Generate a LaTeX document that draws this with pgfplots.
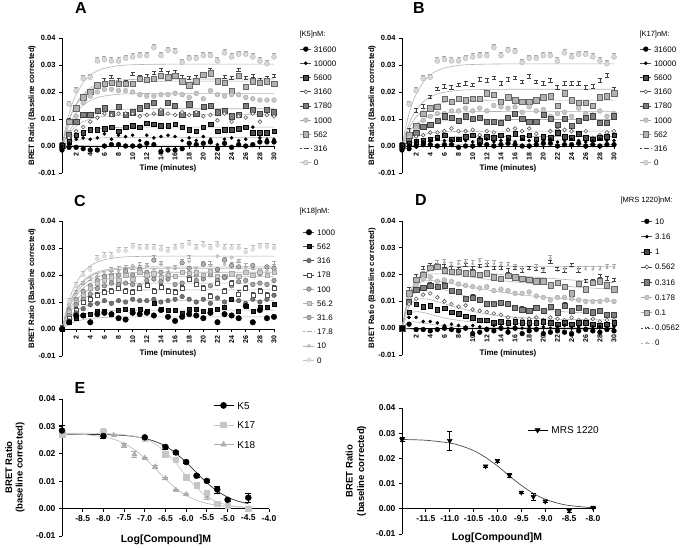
\documentclass[border=0pt]{standalone}
\usepackage{pgfplots}
\usepackage{pgfplotstable}
\pgfplotsset{compat=1.18}
\usepackage{fontspec}
\setmainfont{Liberation Sans}

% ---------- kinetic data (BRET ratio, baseline corrected) ----------
% columns follow legend order (highest antagonist concentration first)
\pgfplotstableread{
t s1 s2 s3 s4 s5 s6 s7 s8 s9
0 -0.0015 0 0 0 0 0 0 0 0
1 -0.0005 0.001 0.0015 0.003 0.004 0.005 0.009 0.009 0.0155
2 -0.0005 0.0025 0.004 0.0055 0.009 0.011 0.014 0.014 0.0205
3 -0.001 0.003 0.005 0.007 0.0115 0.016 0.018 0.0175 0.025
4 -0.0015 0.0025 0.006 0.009 0.0115 0.0185 0.020 0.0195 0.0255
5 -0.0015 0.003 0.006 0.0105 0.013 0.020 0.0225 0.022 0.0315
6 0 0.0045 0.0065 0.012 0.014 0.021 0.023 0.024 0.032
7 0.0005 0.0025 0.007 0.0115 0.012 0.021 0.0235 0.025 0.0315
8 0.0005 0.004 0.0055 0.012 0.0145 0.0205 0.023 0.024 0.0315
9 0 0.0035 0.007 0.012 0.0115 0.0205 0.023 0.023 0.0325
10 0 0.004 0.0075 0.012 0.0125 0.020 0.023 0.026 0.033
11 0 0.002 0.007 0.011 0.014 0.019 0.025 0.025 0.0335
12 0.001 0.004 0.0085 0.0115 0.015 0.0185 0.0245 0.0255 0.0335
13 0.0005 0.003 0.008 0.012 0.016 0.0185 0.025 0.0265 0.0365
14 -0.002 0.0035 0.0075 0.0135 0.0125 0.019 0.026 0.0275 0.0335
15 -0.0015 0.004 0.0075 0.012 0.016 0.019 0.0255 0.0265 0.0355
16 -0.0015 0.0035 0.008 0.0115 0.015 0.0195 0.026 0.027 0.035
17 -0.001 0.002 0.007 0.0125 0.0115 0.019 0.024 0.025 0.031
18 0.001 0.003 0.006 0.0115 0.0155 0.018 0.0225 0.0245 0.0325
19 0.0005 0.002 0.0055 0.0125 0.012 0.0195 0.024 0.025 0.0325
20 0.001 0.0035 0.007 0.011 0.0145 0.0175 0.0265 0.026 0.0335
21 0.0015 0.0025 0.008 0.0115 0.015 0.0205 0.027 0.0275 0.0335
22 -0.001 0.0005 0.0055 0.0095 0.0125 0.019 0.024 0.024 0.0315
23 0.001 0.0025 0.006 0.012 0.013 0.0185 0.0235 0.025 0.0345
24 -0.0005 0.003 0.006 0.009 0.011 0.019 0.0205 0.0245 0.033
25 0.0005 0.002 0.0065 0.011 0.0115 0.019 0.026 0.0275 0.034
26 0 0.0025 0.007 0.0105 0.015 0.018 0.022 0.0245 0.034
27 0.0005 0.007 0.005 0.012 0.0135 0.0175 0.024 0.0255 0.033
28 0.0015 0.003 0.005 0.009 0.012 0.017 0.0235 0.024 0.0315
29 0.0015 0.0025 0.005 0.0115 0.0135 0.017 0.024 0.0245 0.0305
30 0.0015 0.0025 0.0055 0.011 0.0125 0.017 0.023 0.0255 0.033
}\tA

\pgfplotstableread{
t s1 s2 s3 s4 s5 s6 s7 s8 s9
0 -0.0015 0 0 0 0 0 0 0 0
1 -0.001 0.0005 0.001 0.0015 0.002 0.003 0.004 0.005 0.0155
2 0 0.0015 0.0015 0.0035 0.005 0.0065 0.0075 0.0125 0.0205
3 0.0005 0.0015 0.002 0.004 0.007 0.0095 0.012 0.014 0.025
4 0.0005 0.002 0.0025 0.005 0.008 0.011 0.014 0.0175 0.0255
5 0 0.0025 0.003 0.005 0.0095 0.012 0.0145 0.0205 0.0315
6 0.0005 0.002 0.004 0.0055 0.011 0.012 0.0175 0.0215 0.032
7 0.0005 0.002 0.0025 0.0065 0.0105 0.013 0.0165 0.021 0.0315
8 -0.0005 0.0025 0.0025 0.0055 0.0095 0.013 0.0175 0.022 0.0315
9 0 0.002 0.0035 0.0055 0.011 0.014 0.017 0.0225 0.0325
10 0 0.0015 0.004 0.006 0.010 0.013 0.0175 0.022 0.033
11 0.0005 0.003 0.002 0.004 0.0105 0.014 0.0175 0.024 0.0335
12 0.0005 0.0025 0.0035 0.0055 0.009 0.013 0.0195 0.0235 0.0335
13 0 0.0015 0.003 0.005 0.009 0.015 0.019 0.0245 0.0365
14 0.0005 0.002 0.004 0.0035 0.0085 0.0145 0.0165 0.0225 0.0335
15 0.001 0.0025 0.003 0.006 0.0105 0.014 0.018 0.024 0.0355
16 0.0005 0.0015 0.0045 0.0065 0.012 0.0145 0.017 0.0245 0.035
17 0 0.0025 0.003 0.0055 0.010 0.0125 0.0165 0.023 0.031
18 0 0.002 0.004 0.0065 0.009 0.0145 0.0165 0.025 0.0325
19 0.0005 0.0015 0.0025 0.0045 0.009 0.013 0.017 0.023 0.0325
20 0.001 0.002 0.0035 0.0035 0.0115 0.0135 0.018 0.0225 0.0335
21 0.001 0.0025 0.003 0.0055 0.010 0.011 0.0185 0.0235 0.0335
22 0 0.0015 0.005 0.006 0.008 0.012 0.015 0.021 0.0315
23 0.0005 0.002 0.0035 0.006 0.010 0.0125 0.0195 0.0225 0.0345
24 0.0005 0.0025 0.003 0.0055 0.0075 0.011 0.017 0.0225 0.033
25 0.001 0.002 0.0045 0.0045 0.0095 0.014 0.016 0.0225 0.034
26 0 0.0015 0.003 0.0055 0.0105 0.012 0.016 0.021 0.034
27 0.0005 0.002 0.0025 0.003 0.011 0.0115 0.015 0.0215 0.033
28 0 0.0025 0.003 0.004 0.0085 0.013 0.018 0.0235 0.0315
29 0.0005 0.002 0.0035 0.005 0.0085 0.011 0.0185 0.0255 0.0305
30 0.0005 0.002 0.004 0.0055 0.011 0.012 0.0195 0.0205 0.033
}\tB

\pgfplotstableread{
t s1 s2 s3 s4 s5 s6 s7 s8 s9 s10
0 0 0 0 0 0 0 0 0 0 0
1 0.0025 0.0025 0.003 0.004 0.005 0.006 0.007 0.008 0.009 0.010
2 0.005 0.004 0.006 0.007 0.009 0.010 0.011 0.013 0.013 0.016
3 0.005 0.005 0.0075 0.010 0.011 0.0125 0.014 0.0165 0.017 0.020
4 0.0025 0.0055 0.009 0.011 0.013 0.015 0.016 0.018 0.019 0.022
5 0.0055 0.0065 0.0095 0.0125 0.015 0.017 0.018 0.0195 0.0195 0.026
6 0.006 0.0065 0.0105 0.0135 0.016 0.018 0.0195 0.020 0.021 0.027
7 0.0055 0.0055 0.0095 0.014 0.017 0.019 0.020 0.0215 0.022 0.027
8 0.004 0.007 0.0105 0.015 0.0165 0.018 0.020 0.022 0.0215 0.029
9 0.0035 0.0075 0.010 0.014 0.017 0.020 0.0215 0.0225 0.021 0.029
10 0.006 0.007 0.011 0.0135 0.0165 0.0185 0.020 0.022 0.0235 0.0305
11 0.0055 0.0075 0.0105 0.015 0.016 0.021 0.022 0.0235 0.023 0.030
12 0.006 0.0065 0.0105 0.016 0.018 0.020 0.021 0.023 0.0235 0.030
13 0.005 0.0095 0.011 0.014 0.0185 0.0205 0.0255 0.026 0.022 0.030
14 0.007 0.0075 0.010 0.0155 0.0175 0.019 0.021 0.024 0.024 0.0295
15 0.0045 0.007 0.0105 0.014 0.0185 0.020 0.020 0.0215 0.0225 0.029
16 0.003 0.007 0.011 0.0135 0.0165 0.0195 0.0195 0.0225 0.0225 0.030
17 0.0045 0.006 0.012 0.015 0.017 0.021 0.0245 0.0245 0.0245 0.0305
18 0.0055 0.0075 0.011 0.0185 0.019 0.0205 0.0225 0.026 0.025 0.0315
19 0.005 0.0075 0.010 0.0165 0.018 0.021 0.020 0.0215 0.0225 0.030
20 0.004 0.0065 0.011 0.015 0.0185 0.020 0.024 0.024 0.024 0.031
21 0.006 0.007 0.0095 0.012 0.016 0.0215 0.020 0.024 0.0235 0.030
22 0.0025 0.0075 0.0115 0.017 0.018 0.0195 0.022 0.021 0.027 0.031
23 0.0055 0.008 0.010 0.014 0.019 0.0195 0.0255 0.0255 0.024 0.030
24 0.005 0.011 0.011 0.017 0.016 0.0205 0.0235 0.0235 0.0265 0.030
25 0.004 0.0065 0.0105 0.013 0.0175 0.0195 0.023 0.0245 0.025 0.030
26 0.0085 0.0085 0.0095 0.015 0.018 0.021 0.021 0.023 0.0225 0.0285
27 0.0025 0.0065 0.011 0.0125 0.0165 0.020 0.0235 0.022 0.0235 0.0295
28 0.007 0.008 0.010 0.014 0.017 0.021 0.0205 0.021 0.022 0.0305
29 0.004 0.008 0.011 0.0125 0.0165 0.020 0.023 0.0225 0.0215 0.0305
30 0.0045 0.009 0.0125 0.015 0.018 0.021 0.0225 0.024 0.023 0.030
}\tC

\pgfplotstableread{
t s1 s2 s3 s4 s5 s6 s7 s8 s9
0 0 0 0 0 0 0 0 0 0
1 0.0015 0.004 0.006 0.009 0.010 0.011 0.013 0.014 0.012
2 -0.0005 0.004 0.009 0.011 0.0145 0.016 0.018 0.019 0.017
3 -0.0005 0.0025 0.008 0.0125 0.015 0.0185 0.020 0.022 0.020
4 -0.001 0.0025 0.0085 0.013 0.016 0.019 0.0225 0.023 0.023
5 -0.0005 0.002 0.007 0.0115 0.0155 0.0175 0.023 0.023 0.024
6 0 0.001 0.0075 0.010 0.016 0.018 0.0215 0.0225 0.0245
7 -0.0005 0.0015 0.006 0.009 0.014 0.0175 0.021 0.022 0.0235
8 -0.001 0.001 0.0055 0.008 0.0135 0.0165 0.021 0.0215 0.024
9 0 0.0005 0.0045 0.0085 0.011 0.016 0.0205 0.023 0.0245
10 -0.002 0.001 0.004 0.007 0.0115 0.0155 0.0205 0.022 0.024
11 -0.0015 0.0005 0.003 0.0065 0.0105 0.015 0.020 0.0225 0.025
12 -0.0005 0 0.003 0.006 0.009 0.0155 0.0205 0.023 0.024
13 -0.001 0.001 0.002 0.0055 0.009 0.014 0.019 0.022 0.024
14 0 0.0005 0.0025 0.005 0.0095 0.0145 0.0185 0.022 0.0235
15 -0.0015 0 0.002 0.004 0.009 0.014 0.0195 0.021 0.0235
16 0 0.0005 0.0025 0.0035 0.0075 0.013 0.019 0.022 0.0225
17 -0.002 0 0.002 0.003 0.007 0.013 0.0185 0.021 0.022
18 -0.001 0.0005 0.002 0.0035 0.0065 0.0135 0.018 0.022 0.022
19 -0.0005 0 0.002 0.004 0.0075 0.012 0.0175 0.0215 0.0225
20 -0.002 0.0005 0.0025 0.003 0.0065 0.0115 0.0175 0.021 0.0215
21 -0.0015 0 0.002 0.004 0.008 0.0105 0.016 0.024 0.026
22 -0.001 0.0005 0.0015 0.0035 0.006 0.0115 0.017 0.0215 0.0215
23 -0.0015 0.001 0.002 0.003 0.0085 0.0115 0.0155 0.021 0.022
24 -0.002 0 0.0015 0.004 0.0065 0.011 0.013 0.023 0.023
25 -0.001 0.0005 0.002 0.003 0.0075 0.0105 0.0165 0.021 0.022
26 -0.0005 0 0.002 0.003 0.0065 0.010 0.0145 0.017 0.022
27 -0.001 0.0005 0.0015 0.0035 0.006 0.010 0.017 0.017 0.022
28 -0.0015 0.0005 0.001 0.0025 0.0065 0.010 0.0175 0.019 0.022
29 -0.0005 0 0.0015 0.003 0.005 0.0105 0.016 0.018 0.0225
30 -0.001 0.0005 0.002 0.003 0.005 0.010 0.0145 0.0175 0.0225
}\tD

% ---------- fitted curves ----------
\pgfplotstableread{
t c1 c2 c3 c4 c5 c6 c7 c8 c9
0 0 0 0 0 0 0 0 0 0
0.5 0.0001 0.0007 0.00155 0.00256 0.00305 0.00431 0.0053 0.00548 0.0067
1 0.0001 0.00126 0.00275 0.00456 0.00542 0.00766 0.00943 0.00975 0.01191
1.5 0.0002 0.00169 0.0037 0.00612 0.00729 0.0103 0.01267 0.01309 0.016
2 0.0002 0.00202 0.00442 0.00733 0.00872 0.01232 0.01517 0.01567 0.01915
3 0.0002 0.00249 0.00544 0.00901 0.01072 0.01515 0.01865 0.01927 0.02354
4 0.0003 0.00277 0.00606 0.01003 0.01194 0.01687 0.02076 0.02145 0.02621
5 0.0003 0.00294 0.00643 0.01065 0.01267 0.0179 0.02203 0.02277 0.02782
6 0.0003 0.00304 0.00665 0.01102 0.01311 0.01853 0.0228 0.02356 0.02879
8 0.0003 0.00314 0.00687 0.01139 0.01355 0.01915 0.02357 0.02435 0.02975
10 0.0003 0.00318 0.00695 0.01152 0.0137 0.01936 0.02383 0.02463 0.03009
15 0.0003 0.0032 0.007 0.0116 0.0138 0.0195 0.024 0.0248 0.0303
30 0.0003 0.0032 0.007 0.0116 0.0138 0.0195 0.024 0.0248 0.0303
}\cA

\pgfplotstableread{
t c1 c2 c3 c4 c5 c6 c7 c8 c9
0 0 0 0 0 0 0 0 0 0
0.5 0.00011 0.00049 0.00077 0.00122 0.00217 0.00283 0.00376 0.00464 0.00672
1 0.0002 0.00086 0.00138 0.00216 0.00385 0.00503 0.00668 0.00825 0.01195
1.5 0.00026 0.00116 0.00185 0.0029 0.00517 0.00676 0.00898 0.01109 0.01605
2 0.00032 0.00139 0.00221 0.00348 0.00619 0.00809 0.01074 0.01327 0.01921
3 0.00039 0.00171 0.00272 0.00427 0.00761 0.00995 0.01321 0.01632 0.02362
4 0.00043 0.0019 0.00303 0.00476 0.00848 0.01107 0.01471 0.01817 0.0263
5 0.00046 0.00202 0.00321 0.00505 0.009 0.01175 0.01561 0.01928 0.02791
6 0.00048 0.00209 0.00333 0.00523 0.00931 0.01216 0.01615 0.01995 0.02888
8 0.00049 0.00216 0.00344 0.0054 0.00962 0.01257 0.01669 0.02062 0.02985
10 0.0005 0.00218 0.00348 0.00546 0.00973 0.01271 0.01688 0.02085 0.03019
15 0.0005 0.0022 0.0035 0.0055 0.0098 0.0128 0.017 0.021 0.0304
30 0.0005 0.0022 0.0035 0.0055 0.0098 0.0128 0.017 0.021 0.0304
}\cB

\pgfplotstableread{
t c1 c2 c3 c4 c5 c6 c7 c8 c9 c10
0 0 0 0 0 0 0 0 0 0 0
0.5 0.00099 0.00155 0.00232 0.0032 0.00376 0.00431 0.00464 0.00497 0.00508 0.00597
1 0.00177 0.00275 0.00413 0.0057 0.00668 0.00766 0.00825 0.00884 0.00904 0.01061
1.5 0.00238 0.0037 0.00554 0.00766 0.00898 0.0103 0.01109 0.01188 0.01214 0.01426
2 0.00284 0.00442 0.00664 0.00916 0.01074 0.01232 0.01327 0.01422 0.01454 0.01706
3 0.0035 0.00544 0.00816 0.01127 0.01321 0.01515 0.01632 0.01748 0.01787 0.02098
4 0.00389 0.00606 0.00908 0.01254 0.01471 0.01687 0.01817 0.01946 0.0199 0.02336
5 0.00413 0.00643 0.00964 0.01331 0.01561 0.0179 0.01928 0.02066 0.02111 0.02479
6 0.00428 0.00665 0.00998 0.01378 0.01615 0.01853 0.01995 0.02138 0.02185 0.02565
8 0.00442 0.00687 0.01031 0.01424 0.01669 0.01915 0.02062 0.0221 0.02259 0.02651
10 0.00447 0.00695 0.01043 0.0144 0.01688 0.01936 0.02085 0.02234 0.02284 0.02681
15 0.0045 0.007 0.0105 0.0145 0.017 0.0195 0.021 0.0225 0.023 0.027
30 0.0045 0.007 0.0105 0.0145 0.017 0.0195 0.021 0.0225 0.023 0.027
}\cC

\pgfplotstableread{
t c1 c2 c3 c4 c5 c6 c7 c8 c9
0 0 0 0 0 0 0 0 0 0
0.5 -0.0002 0.0015 0.0035 0.005 0.006 0.0065 0.007 0.007 0.006
1 -0.0003 0.0022 0.0052 0.008 0.010 0.011 0.012 0.012 0.011
1.5 -0.0004 0.0024 0.006 0.0098 0.0125 0.014 0.0155 0.0155 0.0145
2 -0.0005 0.0023 0.0062 0.0107 0.014 0.016 0.0175 0.018 0.017
3 -0.0006 0.0019 0.0059 0.011 0.0152 0.0175 0.0195 0.0205 0.020
4 -0.0006 0.0015 0.0052 0.0106 0.0153 0.0178 0.0202 0.0215 0.0215
5 -0.0006 0.0012 0.0045 0.0099 0.0149 0.0176 0.0203 0.0218 0.0223
6 -0.0006 0.0009 0.0038 0.0091 0.0143 0.0172 0.0202 0.0218 0.0227
8 -0.0006 0.0006 0.0029 0.0076 0.0128 0.0162 0.0196 0.0215 0.023
10 -0.0006 0.0004 0.0023 0.0063 0.0113 0.0152 0.019 0.021 0.023
12 -0.0006 0.0003 0.002 0.0053 0.010 0.0143 0.0183 0.0205 0.023
15 -0.0006 0.0003 0.0018 0.0043 0.0085 0.0131 0.0175 0.0198 0.023
20 -0.0006 0.0003 0.0017 0.0035 0.0068 0.0116 0.0163 0.0188 0.023
25 -0.0006 0.0003 0.0017 0.0032 0.0058 0.0106 0.0153 0.0178 0.023
30 -0.0006 0.0003 0.0017 0.0031 0.0053 0.0101 0.0145 0.017 0.023
}\cD

% ---------- concentration-response (panel E) ----------
\pgfplotstableread{
x y e
-9 0.0285 0.0018
-8 0.0265 0.0008
-7 0.0260 0.0005
-6.5 0.0225 0.0008
-6.25 0.0205 0.0006
-6 0.0170 0.0005
-5.75 0.0120 0.0006
-5.5 0.0101 0.0005
-5.25 0.0070 0.0012
-5 0.0032 0.0005
-4.5 0.0040 0.0015
}\eKa
\pgfplotstableread{
x y e
-9 0.0272 0.0005
-8 0.0280 0.0015
-7 0.0255 0.0005
-6.5 0.0199 0.0005
-6.25 0.0178 0.0006
-6 0.0115 0.0004
-5.75 0.0085 0.0004
-5.5 0.0058 0.0005
-5.25 0.0018 0.0004
-5 0.0010 0.0004
-4.5 0.0000 0.0008
}\eKb
\pgfplotstableread{
x y e
-9 0.0270 0.0005
-8 0.0270 0.0005
-7.75 0.0268 0.0004
-7.5 0.0232 0.0008
-7.25 0.0198 0.0010
-7 0.0185 0.0004
-6.75 0.0153 0.0004
-6.5 0.0110 0.0004
-6.25 0.0068 0.0004
-6 0.0052 0.0003
-5.5 0.0044 0.0008
-4.5 0.0000 0.0006
}\eKc
\pgfplotstableread{
x y e
-12 0.0275 0.0008
-11 0.0270 0.0037
-10.25 0.0169 0.0004
-10 0.0190 0.0007
-9.75 0.0133 0.0008
-9.5 0.0065 0.0004
-9.25 0.0048 0.0012
-9 0.0030 0.0004
-8.5 -0.0007 0.0006
-8 0.0005 0.0003
}\eMrs

\pgfplotstableread{
x ya yb yc
-9 0.0272 0.0275 0.0274
-8.5 0.0271 0.0275 0.0271
-8 0.0270 0.0274 0.0262
-7.75 0.0269 0.0272 0.0253
-7.5 0.0267 0.0269 0.0238
-7.25 0.0263 0.0264 0.0215
-7 0.0256 0.0254 0.0184
-6.75 0.0245 0.0236 0.0147
-6.5 0.0228 0.0207 0.0108
-6.25 0.0202 0.0166 0.0074
-6 0.0169 0.0119 0.0048
-5.75 0.0131 0.0076 0.0030
-5.5 0.0094 0.0044 0.0019
-5.25 0.0064 0.0024 0.0012
-5 0.0042 0.0013 0.0008
-4.75 0.0027 0.0007 0.0006
-4.5 0.0018 0.0003 0.0005
}\eFit
\pgfplotstableread{
x y
-12 0.0275
-11.5 0.0272
-11 0.0261
-10.75 0.0249
-10.5 0.0231
-10.25 0.0204
-10 0.0170
-9.75 0.0130
-9.5 0.0093
-9.25 0.0061
-9 0.0038
-8.75 0.0023
-8.5 0.0013
-8 0.0004
}\eMfit

\pgfplotsset{
  prism/.style={
    scale only axis, anchor=south west, clip=false,
    ymin=-0.01, ymax=0.04,
    ytick={-0.01,0,0.01,0.02,0.03,0.04},
    scaled y ticks=false,
    axis x line*=middle, axis y line*=left,
    tick align=outside,
    axis line style={line width=0.8pt},
    every tick/.style={black, line width=0.8pt},
    major tick length=3pt,
    /pgf/number format/assume math mode=true,
    y tick label style={/pgf/number format/fixed, /pgf/number format/fixed zerofill, /pgf/number format/precision=2},
    legend cell align=left,
  },
  kin/.style={
    prism, width=212pt, height=135pt, xmin=0, xmax=30,
    xtick={2,4,...,30},
    tick label style={font=\fontsize{7.5}{8}\selectfont\bfseries},
    x tick label style={rotate=90, anchor=east, font=\fontsize{7}{7}\selectfont\bfseries},
    ylabel={BRET Ratio (Baseline corrected)},
    ylabel style={at={(axis description cs:-0.1415,0.5)}, anchor=center, font=\fontsize{7.8}{9}\selectfont\bfseries},
    legend style={anchor=north west, draw=none, fill=none, font=\fontsize{8}{9}\selectfont,
      row sep=7.2pt, column sep=2pt, nodes={inner sep=0.5pt, text height=6pt, text depth=0pt}},
    legend image code/.code={\draw[#1, mark repeat=2, mark phase=2] plot coordinates {(0pt,0pt) (5.5pt,0pt) (11pt,0pt)};},
  },
  dose/.style={
    prism,
    tick label style={font=\fontsize{8.5}{9}\selectfont\bfseries},
    x tick label style={/pgf/number format/fixed, /pgf/number format/fixed zerofill, /pgf/number format/precision=1},
    ylabel={BRET Ratio\\(baseline corrected)},
    legend style={draw=none, fill=none, font=\fontsize{10}{12}\selectfont,
      row sep=11pt, column sep=3pt, nodes={inner sep=0.5pt, text height=7.5pt, text depth=0pt}},
    legend image code/.code={\draw[#1, mark repeat=2, mark phase=2] plot coordinates {(0pt,0pt) (10pt,0pt) (20pt,0pt)};},
  },
  crv/.style={gray!60, line width=0.6pt, smooth, no markers, forget plot},
  pts/.style={only marks, forget plot},
  % SEM caps drawn above the upper series
  sem/.style={error bars/.cd, y dir=plus, y fixed=#1,
    error bar style={line width=0.6pt}, error mark options={rotate=90, mark size=2pt, line width=0.6pt}},
  % marker styles
  m1/.style={mark=*, mark size=2.4pt, mark options={draw=black, fill=black}},
  m2/.style={mark=*, mark size=1.6pt, mark options={draw=black, fill=black}},
  m3/.style={mark=square*, mark size=2.3pt, mark options={draw=black, fill=black!70}},
  m4/.style={mark=*, mark size=1.9pt, mark options={draw=black!65, fill=white, line width=0.6pt}},
  m5/.style={mark=square*, mark size=2.6pt, mark options={draw=black!75, fill=black!50}},
  m6/.style={mark=*, mark size=2.4pt, mark options={draw=gray!70, fill=gray!45}},
  m7/.style={mark=square*, mark size=2.7pt, mark options={draw=black!60, fill=gray!60}},
  m8/.style={mark=-, mark size=2.2pt, mark options={draw=black!75, line width=0.8pt}},
  m9/.style={mark=*, mark size=2.5pt, mark options={draw=gray!60, fill=gray!30}},
  n1/.style={mark=*, mark size=2.8pt, mark options={draw=black, fill=black}},
  n2/.style={mark=square*, mark size=2pt, mark options={draw=black, fill=black!85}},
  n3/.style={mark=*, mark size=2.3pt, mark options={draw=black!70, fill=black!55}},
  n4/.style={mark=square*, mark size=2pt, mark options={draw=black!70, fill=white, line width=0.6pt}},
  n5/.style={mark=*, mark size=2.3pt, mark options={draw=gray!70!black, fill=gray!70}},
  n6/.style={mark=square*, mark size=2.2pt, mark options={draw=gray!70, fill=gray!40}},
  n7/.style={mark=*, mark size=2.3pt, mark options={draw=gray!75!black, fill=gray!60}},
  n8/.style={mark=-, mark size=2.2pt, mark options={draw=gray!70, line width=0.8pt}},
  n9/.style={mark=*, mark size=1.7pt, mark options={draw=gray!60, fill=gray!40}},
  n10/.style={mark=*, mark size=2pt, mark options={draw=gray!40, fill=gray!25}},
  d9/.style={mark=*, mark size=1.2pt, mark options={draw=gray!70, fill=gray!50}},
}

\begin{document}
\begin{tikzpicture}[x=1pt, y=1pt]
\useasboundingbox (0,0) rectangle (685,548);

% ================= A =================
\begin{axis}[kin, at={(62pt,375pt)}, legend style={at={(1.108,0.96)}}]
\foreach \c in {1,...,9} {\addplot[crv] table[x=t, y=c\c]{\cA};}
\addplot[pts, m9, gray!70, sem=0.0012] table[x=t, y=s9]{\tA};
\addplot[pts, m8, black!75, sem=0.0012] table[x=t, y=s8]{\tA};
\addplot[pts, m7] table[x=t, y=s7]{\tA};
\addplot[pts, m6] table[x=t, y=s6]{\tA};
\addplot[pts, m5] table[x=t, y=s5]{\tA};
\addplot[pts, m4] table[x=t, y=s4]{\tA};
\addplot[pts, m3] table[x=t, y=s3]{\tA};
\addplot[pts, m2] table[x=t, y=s2]{\tA};
\addplot[pts, m1] table[x=t, y=s1]{\tA};
\addlegendimage{m1, black!70}\addlegendentry{31600}
\addlegendimage{m2, black!70}\addlegendentry{10000}
\addlegendimage{m3, black!70}\addlegendentry{5600}
\addlegendimage{m4, black!70}\addlegendentry{3160}
\addlegendimage{m5, black!70}\addlegendentry{1780}
\addlegendimage{m6, gray!70}\addlegendentry{1000}
\addlegendimage{m7, gray!70}\addlegendentry{562}
\addlegendimage{m8, black!70, dash pattern=on 2pt off 1.5pt}\addlegendentry{316}
\addlegendimage{m9, gray!60}\addlegendentry{0}
\end{axis}

% ================= B =================
\begin{axis}[kin, at={(402pt,375pt)}, legend style={at={(1.108,0.96)}}]
\foreach \c in {1,...,9} {\addplot[crv] table[x=t, y=c\c]{\cB};}
\addplot[pts, m9, gray!70, sem=0.0012] table[x=t, y=s9]{\tB};
\addplot[pts, m8, black!75, sem=0.0014] table[x=t, y=s8]{\tB};
\addplot[pts, m7] table[x=t, y=s7]{\tB};
\addplot[pts, m6] table[x=t, y=s6]{\tB};
\addplot[pts, m5] table[x=t, y=s5]{\tB};
\addplot[pts, m4] table[x=t, y=s4]{\tB};
\addplot[pts, m3] table[x=t, y=s3]{\tB};
\addplot[pts, m2] table[x=t, y=s2]{\tB};
\addplot[pts, m1] table[x=t, y=s1]{\tB};
\addlegendimage{m1, black!70}\addlegendentry{31600}
\addlegendimage{m2, black!70}\addlegendentry{10000}
\addlegendimage{m3, black!70}\addlegendentry{5600}
\addlegendimage{m4, black!70}\addlegendentry{3160}
\addlegendimage{m5, black!70}\addlegendentry{1780}
\addlegendimage{m6, gray!70}\addlegendentry{1000}
\addlegendimage{m7, gray!70}\addlegendentry{562}
\addlegendimage{m8, black!70, dash pattern=on 2pt off 1.5pt}\addlegendentry{316}
\addlegendimage{m9, gray!60}\addlegendentry{0}
\end{axis}

% ================= C =================
\begin{axis}[kin, at={(62pt,192pt)}, legend style={at={(1.123,0.959)}}]
\foreach \c in {1,...,10} {\addplot[crv] table[x=t, y=c\c]{\cC};}
\addplot[pts, n10, gray!55, sem=0.0014] table[x=t, y=s10]{\tC};
\addplot[pts, n9] table[x=t, y=s9]{\tC};
\addplot[pts, n8, gray!70, sem=0.0012] table[x=t, y=s8]{\tC};
\addplot[pts, n7] table[x=t, y=s7]{\tC};
\addplot[pts, n6] table[x=t, y=s6]{\tC};
\addplot[pts, n5] table[x=t, y=s5]{\tC};
\addplot[pts, n4, black!70, sem=0.0012] table[x=t, y=s4]{\tC};
\addplot[pts, n3] table[x=t, y=s3]{\tC};
\addplot[pts, n2] table[x=t, y=s2]{\tC};
\addplot[pts, n1] table[x=t, y=s1]{\tC};
\addlegendimage{n1, black!70}\addlegendentry{1000}
\addlegendimage{n2, black!70}\addlegendentry{562}
\addlegendimage{n3, black!70}\addlegendentry{316}
\addlegendimage{n4, black!70}\addlegendentry{178}
\addlegendimage{n5, gray!70}\addlegendentry{100}
\addlegendimage{n6, gray!60}\addlegendentry{56.2}
\addlegendimage{n7, gray!70}\addlegendentry{31.6}
\addlegendimage{n8, gray!70, dash pattern=on 2pt off 1.5pt}\addlegendentry{17.8}
\addlegendimage{n9, gray!60}\addlegendentry{10}
\addlegendimage{n10, gray!45}\addlegendentry{0}
\end{axis}

% ================= D =================
\begin{axis}[kin, at={(402pt,193pt)}, height=134pt, legend style={at={(1.113,1.04)}, row sep=8.2pt}]
\foreach \c in {1,...,9} {\addplot[crv] table[x=t, y=c\c]{\cD};}
\addplot[pts, d9, gray!70, sem=0.0012] table[x=t, y=s9]{\tD};
\addplot[pts, m8, black!75, sem=0.0012] table[x=t, y=s8]{\tD};
\addplot[pts, m7] table[x=t, y=s7]{\tD};
\addplot[pts, m6] table[x=t, y=s6]{\tD};
\addplot[pts, m5, black!75, sem=0.0010] table[x=t, y=s5]{\tD};
\addplot[pts, m4] table[x=t, y=s4]{\tD};
\addplot[pts, m3] table[x=t, y=s3]{\tD};
\addplot[pts, m2] table[x=t, y=s2]{\tD};
\addplot[pts, m1] table[x=t, y=s1]{\tD};
\addlegendimage{m1, black!70}\addlegendentry{10}
\addlegendimage{m2, black!70}\addlegendentry{3.16}
\addlegendimage{m3, black!70}\addlegendentry{1}
\addlegendimage{m4, black!70}\addlegendentry{0.562}
\addlegendimage{m5, black!70}\addlegendentry{0.316}
\addlegendimage{m6, gray!70}\addlegendentry{0.178}
\addlegendimage{m7, gray!70}\addlegendentry{0.1}
\addlegendimage{m8, black!70, dash pattern=on 2pt off 1.5pt}\addlegendentry{0.0562}
\addlegendimage{d9, gray!60, dash pattern=on 2pt off 1.5pt}\addlegendentry{0}
\end{axis}

% ================= E (left) =================
\begin{axis}[dose, at={(62pt,12pt)}, width=207pt, height=137pt,
  xmin=-9, xmax=-4, xtick={-8.5,-8,...,-4},
  ylabel style={align=center, at={(axis description cs:-0.227,0.5)}, anchor=center, font=\fontsize{9.5}{10.5}\selectfont\bfseries},
  legend style={at={(0.715,1.0)}, anchor=north west}]
\addplot[black!80, line width=0.7pt, smooth, no markers, forget plot] table[x=x, y=ya]{\eFit};
\addplot[gray!45, line width=0.7pt, smooth, no markers, forget plot] table[x=x, y=yb]{\eFit};
\addplot[gray!50, line width=0.7pt, smooth, no markers, forget plot] table[x=x, y=yc]{\eFit};
\addplot[pts, mark=triangle*, mark size=3pt, gray!65, error bars/.cd, y dir=both, y explicit, error bar style={line width=0.6pt}]
  table[x=x, y=y, y error=e]{\eKc};
\addplot[pts, mark=square*, mark size=2.8pt, gray!45, error bars/.cd, y dir=both, y explicit, error bar style={line width=0.6pt}]
  table[x=x, y=y, y error=e]{\eKb};
\addplot[pts, mark=*, mark size=3pt, black, error bars/.cd, y dir=both, y explicit, error bar style={line width=0.6pt}]
  table[x=x, y=y, y error=e]{\eKa};
\addlegendimage{black, mark=*, mark size=3pt, line width=0.7pt}\addlegendentry{K5}
\addlegendimage{gray!45, mark=square*, mark size=2.8pt, line width=0.7pt}\addlegendentry{K17}
\addlegendimage{gray!65, mark=triangle*, mark size=3pt, line width=0.7pt}\addlegendentry{K18}
\end{axis}

% ================= E (right) =================
\begin{axis}[dose, at={(402pt,14pt)}, width=191pt, height=126pt,
  xmin=-12, xmax=-8, xtick={-11.5,-11,...,-8},
  ylabel style={align=center, at={(axis description cs:-0.241,0.5)}, anchor=center, font=\fontsize{9.5}{11.5}\selectfont\bfseries},
  legend style={at={(0.639,0.825)}, anchor=west}]
\addplot[gray!60!black, line width=0.7pt, smooth, no markers, forget plot] table[x=x, y=y]{\eMfit};
\addplot[pts, mark=triangle*, mark size=2.8pt, mark options={rotate=180}, black, error bars/.cd, y dir=both, y explicit, error bar style={line width=0.6pt}, error mark options={rotate=90, mark size=2.5pt}]
  table[x=x, y=y, y error=e]{\eMrs};
\addlegendimage{black, mark=triangle*, mark size=2.8pt, mark options={rotate=180}, line width=0.7pt}\addlegendentry{MRS 1220}
\end{axis}

% ---------- panel letters, axis titles, legend titles ----------
\begin{scope}[font=\fontsize{16}{16}\selectfont\bfseries]
\node at (81,540) {A};
\node at (419,540) {B};
\node at (80,347) {C};
\node at (421,348) {D};
\node at (80,160) {E};
\end{scope}
\begin{scope}[font=\fontsize{8}{9}\selectfont\bfseries]
\node at (168,380) {Time (minutes)};
\node at (508,380) {Time (minutes)};
\node at (168,195) {Time (minutes)};
\node at (508,195) {Time (minutes)};
\end{scope}
\begin{scope}[font=\fontsize{10.5}{12}\selectfont\bfseries]
\node at (166,8) {Log[Compound]M};
\node at (497,10) {Log[Compound]M};
\end{scope}
\begin{scope}[font=\fontsize{7.5}{9}\selectfont]
\node[anchor=west] at (296,513) {[K5]nM:};
\node[anchor=west] at (636,513) {[K17]nM:};
\node[anchor=west] at (296,336) {[K18]nM:};
\node[anchor=west] at (617,347) {[MRS 1220]nM:};
\end{scope}
\end{tikzpicture}
\end{document}
